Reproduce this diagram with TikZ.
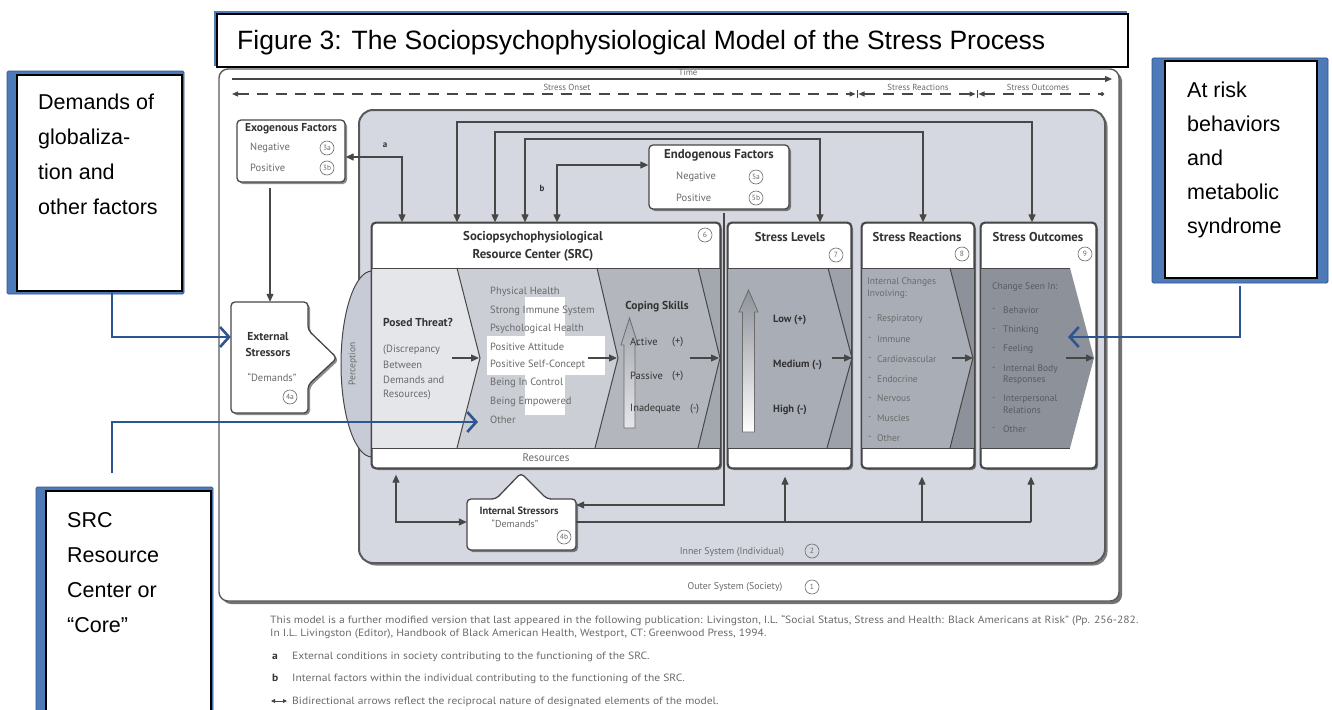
\documentclass[tikz,border=0pt]{standalone}
\usepackage{fontspec}
\setmainfont{Liberation Sans}
\newfontfamily\dfont{PT Sans}
\newfontfamily\fnfont[FakeStretch=1.1]{PT Sans}
\usetikzlibrary{arrows.meta,shadows,shapes.geometric}
\definecolor{bluedark}{HTML}{2C5592}
\definecolor{bluemid}{HTML}{4E7AB8}
\definecolor{innerfill}{HTML}{D5D8E0}
\definecolor{linegray}{HTML}{474747}
\definecolor{boxline}{HTML}{5A5A5A}
\definecolor{txtgray}{HTML}{6A6A6A}
\definecolor{hdgray}{HTML}{333333}
\definecolor{outtxt}{HTML}{575B61}
\definecolor{pA}{HTML}{E5E6EA}
\definecolor{pB}{HTML}{CBCED5}
\definecolor{pC}{HTML}{B3B6BD}
\definecolor{pD}{HTML}{A3A7AE}
\definecolor{pE}{HTML}{A9ADB5}
\definecolor{pE2}{HTML}{9DA1A9}
\definecolor{pF}{HTML}{8D9199}
\definecolor{percfill}{HTML}{C7CBD5}
\tikzset{
  outerbox/.style={draw=boxline, line width=1.4pt, fill=white, rounded corners=9pt, inner sep=0pt,
    drop shadow={shadow xshift=3pt, shadow yshift=-3pt, opacity=0.55, fill=black}},
  innerbox/.style={draw=boxline, line width=2pt, fill=innerfill, rounded corners=14pt, inner sep=0pt,
    drop shadow={shadow xshift=2.5pt, shadow yshift=-2.5pt, opacity=0.5, fill=black}},
  wbox/.style={draw=linegray, line width=1.3pt, fill=white, rounded corners=4pt, inner sep=0pt,
    drop shadow={shadow xshift=2pt, shadow yshift=-2pt, opacity=0.45, fill=black}},
  ghost/.style={inner sep=0pt, draw=none},
  ln/.style={draw=linegray, line width=1.2pt},
  arr/.style={ln, -{Triangle[length=8pt,width=7pt]}},
  arrtwo/.style={ln, {Triangle[length=8pt,width=7pt]}-{Triangle[length=8pt,width=7pt]}},
  bconn/.style={draw=bluedark, line width=2.6pt, -{Straight Barb[length=9pt,width=20pt,line width=2.6pt]}},
  lt/.style={inner sep=0pt, anchor=west, text=txtgray, font=\dfont\fontsize{10.5}{12}\selectfont},
  st/.style={inner sep=0pt, anchor=west, text=txtgray, font=\dfont\fontsize{9.5}{11}\selectfont},
  ot/.style={st, text=outtxt},
  bt/.style={inner sep=0pt, text=hdgray, font=\dfont\bfseries\fontsize{11.5}{13}\selectfont},
  ht/.style={inner sep=0pt, text=hdgray, font=\dfont\bfseries\fontsize{12.8}{15}\selectfont},
  tiny/.style={inner sep=0pt, text=txtgray, font=\dfont\fontsize{8.8}{10}\selectfont},
  cnum/.style={circle, draw=txtgray, line width=0.6pt, inner sep=0pt, minimum size=14pt, text=txtgray, font=\dfont\fontsize{7.5}{8}\selectfont},
  bigt/.style={anchor=base west, inner sep=0pt, font=\fontsize{21.5}{25}\selectfont},
  fn/.style={anchor=base west, inner sep=0pt, text=txtgray, font=\fnfont\fontsize{10.5}{12}\selectfont}
}
\begin{document}
\begin{tikzpicture}[x=1pt,y=-1pt]
\useasboundingbox (0,0) rectangle (1332,709);
% outer system
\node[outerbox, minimum width=900pt, minimum height=532pt] (outer) at (669,335) {};
% title
\draw[draw=bluemid, line width=2.2pt] (215,12) rectangle (1126,65);
\node[draw=black, line width=1.6pt, fill=white, minimum width=911pt, minimum height=53pt, inner sep=0pt] (tbox) at (672.5,40.5) {};
\node[anchor=base west, inner sep=0pt, font=\fontsize{26.5}{30}\selectfont] (ttxt) at (237,49) {Figure 3: The Sociopsychophysiological Model of the Stress Process};
% time line
\coordinate (tm1) at (232,79); \coordinate (tm2) at (1112,79);
\draw[ln, -{Triangle[length=7pt,width=6pt]}] (tm1) -- (tm2);
\node[tiny] (tmlab) at (688,72) {Time};
\coordinate (dd0) at (232,94); \coordinate (dd1) at (857,94);
\coordinate (dd2) at (977,94); \coordinate (dd3) at (1104,94);
\draw[ln, dash pattern=on 11pt off 8pt, {Triangle[length=6pt,width=5pt]}-{Triangle[length=6pt,width=5pt]}] (dd0) -- ([xshift=-1.5pt]dd1);
\draw[ln, dash pattern=on 11pt off 8pt, {Triangle[length=6pt,width=5pt]}-{Triangle[length=6pt,width=5pt]}] ([xshift=1.5pt]dd1) -- ([xshift=-1.5pt]dd2);
\draw[ln, dash pattern=on 11pt off 8pt, {Triangle[length=6pt,width=5pt]}-{Circle[length=4pt]}] ([xshift=1.5pt]dd2) -- (dd3);
\draw[ln, line width=1pt] ([yshift=-4pt]dd1) -- ([yshift=4pt]dd1);
\draw[ln, line width=1pt] ([yshift=-4pt]dd2) -- ([yshift=4pt]dd2);
\node[tiny] (lbon) at (567,87) {Stress Onset};
\node[tiny] (lbre) at (918,87) {Stress Reactions};
\node[tiny] (lbou) at (1038,87) {Stress Outcomes};
% inner system
\node[innerbox, minimum width=746pt, minimum height=453pt] (inner) at (732,336.5) {};
% exogenous factors
\node[wbox, minimum width=108pt, minimum height=62pt] (exo) at (291,151) {};
\node[bt] (exot) at (291,129) {Exogenous Factors};
\node[lt] (exon) at (250,148) {Negative};
\node[lt] (exop) at (250,168) {Positive};
\node[cnum] (c3a) at (327,148) {3a};
\node[cnum] (c3b) at (327,168) {3b};
% endogenous factors
\node[wbox, minimum width=140pt, minimum height=64pt] (endo) at (719,177) {};
\node[ht] (endot) at (719,155) {Endogenous Factors};
\node[lt] (endon) at (676,177) {Negative};
\node[lt] (endop) at (676,198) {Positive};
\node[cnum] (c5a) at (756,177) {5a};
\node[cnum] (c5b) at (756,198) {5b};
% external stressors
\node[ghost, minimum width=77pt, minimum height=111pt] (ext) at (269.5,357.5) {};
\path[wbox] (231,302) -- (308,302) -- (308,330) -- (337,358) -- (308,385) -- (308,413) -- (231,413) -- cycle;
\node[bt] (ext1) at (268,337) {External};
\node[bt] (ext2) at (268,352) {Stressors};
\node[inner sep=0pt, text=txtgray, font=\dfont\fontsize{10.5}{12}\selectfont] (ext3) at (272,377) {“Demands”};
\node[cnum] (c4a) at (290,397) {4a};
% perception
\node[ellipse, draw=linegray, line width=1pt, fill=percfill, minimum width=62pt, minimum height=186pt] (perc) at (372,364) {};
\node[tiny, rotate=90, font=\dfont\fontsize{9.5}{10}\selectfont] (perct) at (353,364) {Perception};
% main boxes
\node[wbox, minimum width=348pt, minimum height=245pt] (src) at (546,345.5) {};
\node[wbox, minimum width=123pt, minimum height=245pt] (lev) at (789.5,345.5) {};
\node[wbox, minimum width=112pt, minimum height=245pt] (rea) at (918,345.5) {};
\node[wbox, minimum width=115pt, minimum height=245pt] (out) at (1038.5,345.5) {};
% SRC panels
\fill[pA] (372,268) -- (457,268) -- (480,358) -- (457,448) -- (372,448) -- cycle;
\fill[pB] (457,268) -- (597,268) -- (618,358) -- (595,448) -- (457,448) -- (480,358) -- cycle;
\fill[pC] (597,268) -- (698,268) -- (720,358) -- (698,448) -- (595,448) -- (618,358) -- cycle;
\fill[pD] (698,268) -- (720,268) -- (720,448) -- (698,448) -- (720,358) -- cycle;
\draw[linegray, line width=1pt] (457,268) -- (480,358) -- (457,448);
\draw[linegray, line width=1pt] (597,268) -- (618,358) -- (595,448);
\draw[linegray, line width=1pt] (698,268) -- (720,358) -- (698,448);
\draw[linegray, line width=1pt] (372,268) -- (720,268);
\draw[linegray, line width=1pt] (372,448) -- (720,448);
\fill[white] (525,297) rectangle (565,415);
\fill[white] (487,336) rectangle (605,375);
% stress levels panel
\fill[pE] (728,268) -- (828,268) -- (852,358) -- (827,448) -- (728,448) -- cycle;
\fill[pE2] (828,268) -- (851,268) -- (851,448) -- (827,448) -- (852,358) -- cycle;
\draw[linegray, line width=1pt] (828,268) -- (852,358) -- (827,448);
\draw[linegray, line width=1pt] (728,268) -- (851,268);
\draw[linegray, line width=1pt] (728,448) -- (851,448);
% stress reactions panel
\fill[pE] (862,268) -- (950,268) -- (973,358) -- (950,448) -- (862,448) -- cycle;
\fill[pF] (950,268) -- (974,268) -- (974,448) -- (950,448) -- (973,358) -- cycle;
\draw[linegray, line width=1pt] (950,268) -- (973,358) -- (950,448);
\draw[linegray, line width=1pt] (862,268) -- (974,268);
\draw[linegray, line width=1pt] (862,448) -- (974,448);
% stress outcomes panel
\fill[pF] (981,268) -- (1070,268) -- (1094,358) -- (1070,448) -- (981,448) -- cycle;
\draw[linegray, line width=1pt] (981,268) -- (1070,268);
\draw[linegray, line width=1pt] (981,448) -- (1070,448);
% redraw box borders
\foreach \b in {src,lev,rea,out}
  \draw[linegray, line width=1.3pt, rounded corners=4pt] (\b.north west) rectangle (\b.south east);
% headers
\node[ht] (srch1) at (533,237) {Sociopsychophysiological};
\node[ht] (srch2) at (533,255) {Resource Center (SRC)};
\node[cnum] (c6) at (705,235) {6};
\node[ht] (levh) at (790,237) {Stress Levels};
\node[cnum] (c7) at (836,255) {7};
\node[ht] (reah) at (917,237) {Stress Reactions};
\node[cnum] (c8) at (962,254) {8};
\node[ht] (outh) at (1038,237) {Stress Outcomes};
\node[cnum] (c9) at (1085,254) {9};
\node[lt, anchor=center, font=\dfont\fontsize{11}{12}\selectfont] (resl) at (546,458) {Resources};
% posed threat
\node[bt, anchor=west] (pt0) at (383,322) {Posed Threat?};
\node[lt] (pt1) at (383,350) {(Discrepancy};
\node[lt] (pt2) at (383,365) {Between};
\node[lt] (pt3) at (383,380) {Demands and};
\node[lt] (pt4) at (383,395) {Resources)};
\coordinate (pa1) at (452,358); \coordinate (pa2) at (479,358);
\draw[arr] (pa1) -- (pa2);
% resources list
\foreach \s [count=\i] in {Physical Health,Strong Immune System,Psychological Health,Positive Attitude,Positive Self-Concept,Being In Control,Being Empowered,Other}
  \node[lt] (rl\i) at (490,{274+18.2*\i}) {\s};
\coordinate (pb1) at (588,358); \coordinate (pb2) at (617,358);
\draw[arr] (pb1) -- (pb2);
% coping skills
\path[draw=linegray!80, line width=0.8pt, top color=pD, bottom color=pA] (624,428) -- (624,345) -- (621,345) -- (629.5,318) -- (638,345) -- (635,345) -- (635,428) -- cycle;
\node[bt] (cs0) at (657,307) {Coping Skills};
\node[lt, text=hdgray] (cs1) at (630,342) {Active};
\node[lt, text=hdgray] (cs1b) at (672,342) {(+)};
\node[lt, text=hdgray] (cs2) at (630,376) {Passive};
\node[lt, text=hdgray] (cs2b) at (672,376) {(+)};
\node[lt, text=hdgray] (cs3) at (630,409) {Inadequate};
\node[lt, text=hdgray] (cs3b) at (690,409) {(-)};
\coordinate (pc1) at (690,358); \coordinate (pc2) at (719,358);
\draw[arr] (pc1) -- (pc2);
% stress levels content
\path[draw=linegray!80, line width=0.8pt, top color=pF, bottom color=white] (742.5,432) -- (742.5,312) -- (739,312) -- (748.5,290) -- (758,312) -- (754.5,312) -- (754.5,432) -- cycle;
\node[lt, text=hdgray, font=\dfont\bfseries\fontsize{10.5}{12}\selectfont] (lv1) at (773,320) {Low (+)};
\node[lt, text=hdgray, font=\dfont\bfseries\fontsize{10.5}{12}\selectfont] (lv2) at (773,365) {Medium (-)};
\node[lt, text=hdgray, font=\dfont\bfseries\fontsize{10.5}{12}\selectfont] (lv3) at (773,410) {High (-)};
\coordinate (pd1) at (832,358); \coordinate (pd2) at (852,358);
\draw[arr] (pd1) -- (pd2);
% stress reactions content
\node[st] (ra1) at (867,282) {Internal Changes};
\node[st] (ra2) at (867,294) {Involving:};
\foreach \s [count=\i] in {Respiratory,Immune,Cardiovascular,Endocrine,Nervous,Muscles,Other}
  {\node[st] (rd\i) at (868,{299.5+19.8*\i}) {-};
   \node[st] (rw\i) at (877,{299.5+19.8*\i}) {\s};}
\coordinate (pe1) at (952,358); \coordinate (pe2) at (973,358);
\draw[arr] (pe1) -- (pe2);
% stress outcomes content
\node[ot] (oa0) at (992,287) {Change Seen In:};
\node[ot] (od1) at (992,310) {-}; \node[ot] (ow1) at (1003,310) {Behavior};
\node[ot] (od2) at (992,330) {-}; \node[ot] (ow2) at (1003,330) {Thinking};
\node[ot] (od3) at (992,349) {-}; \node[ot] (ow3) at (1003,349) {Feeling};
\node[ot] (od4) at (992,369) {-}; \node[ot] (ow4) at (1003,369) {Internal Body};
\node[ot] (ow4b) at (1003,380) {Responses};
\node[ot] (od5) at (992,399) {-}; \node[ot] (ow5) at (1003,399) {Interpersonal};
\node[ot] (ow5b) at (1003,410) {Relations};
\node[ot] (od6) at (992,429) {-}; \node[ot] (ow6) at (1003,429) {Other};
\coordinate (pf1) at (1066,358); \coordinate (pf2) at (1094,358);
\draw[arr] (pf1) -- (pf2);
% internal stressors
\node[ghost, minimum width=109pt, minimum height=51pt] (int) at (521.5,524.5) {};
\path[wbox] (467,499) -- (496,499) -- (521,473) -- (547,499) -- (576,499) -- (576,550) -- (467,550) -- cycle;
\node[bt, font=\dfont\bfseries\fontsize{10.5}{12}\selectfont] (int1) at (519,511) {Internal Stressors};
\node[inner sep=0pt, text=txtgray, font=\dfont\fontsize{10}{12}\selectfont] (int2) at (515,524) {“Demands”};
\node[cnum] (c4b) at (564,537) {4b};
% system labels
\node[lt, anchor=center, font=\dfont\fontsize{9.8}{11}\selectfont] (innl) at (732,552) {Inner System (Individual)};
\node[cnum] (c2) at (812,551) {2};
\node[lt, anchor=center, font=\dfont\fontsize{9.8}{11}\selectfont] (outl) at (735,587) {Outer System (Society)};
\node[cnum] (c1) at (812,587) {1};
% top connectors
\coordinate (a1) at (402,157);
\draw[arrtwo] (exo.east |- a1) -- (a1) -- (src.north -| a1);
\node[inner sep=0pt, text=hdgray, font=\dfont\bfseries\fontsize{9}{10}\selectfont] (la) at (385,145) {a};
\coordinate (b1) at (457,122); \coordinate (b2) at (1032,122);
\draw[arrtwo] (src.north -| b1) -- (b1) -- (b2) -- (out.north -| b2);
\coordinate (k1) at (495,132); \coordinate (k2) at (923,132);
\draw[arrtwo] (src.north -| k1) -- (k1) -- (k2) -- (rea.north -| k2);
\coordinate (m1) at (525,139); \coordinate (m2) at (820,139);
\draw[arrtwo] (src.north -| m1) -- (m1) -- (m2) -- (lev.north -| m2);
\coordinate (e1) at (557,165);
\draw[arrtwo] (src.north -| e1) -- (e1) -- (endo.west |- e1);
\node[inner sep=0pt, text=hdgray, font=\dfont\bfseries\fontsize{9}{10}\selectfont] (lb) at (542,188) {b};
% exogenous to external stressors
\coordinate (xe) at (270,0);
\draw[arr, shorten <=5pt] (exo.south -| xe) -- (ext.north -| xe);
% endogenous to internal stressors
\coordinate (f1) at (724,505);
\draw[arr, shorten <=3pt] (endo.south -| f1) -- (f1) -- (int.east |- f1);
% bottom connectors
\coordinate (g1) at (396,522);
\draw[arrtwo, shorten <=6pt] (src.south -| g1) -- (g1) -- (int.west |- g1);
\coordinate (h1) at (785,522); \coordinate (h2) at (922,522); \coordinate (h3) at (1031,522);
\draw[ln] (int.east |- g1) -- (h3);
\draw[arr, shorten >=8pt] (h1) -- (lev.south -| h1);
\draw[arr, shorten >=8pt] (h2) -- (rea.south -| h2);
\draw[arr, shorten >=8pt] (h3) -- (out.south -| h3);
% blue annotation boxes
\draw[fill=bluemid, draw=bluedark, line width=0.8pt, rounded corners=1.5pt] (7,71) rectangle (184,294);
\node[draw=black, line width=1.6pt, fill=white, minimum width=165pt, minimum height=216pt, inner sep=0pt] (dem) at (99.5,183) {};
\foreach \s [count=\i] in {Demands of,globaliza-,tion and,other factors}
  \node[bigt] (dm\i) at (38,{74+35*\i}) {\s};
\draw[fill=bluemid, draw=bluedark, line width=0.8pt, rounded corners=1.5pt] (36,487) rectangle (213,740);
\node[draw=black, line width=1.6pt, fill=white, minimum width=165pt, minimum height=244pt, inner sep=0pt] (core) at (128.5,613) {};
\node[bigt] (cr1) at (67,527) {SRC};
\node[bigt] (cr2) at (67,562) {Resource};
\node[bigt] (cr3) at (67,597) {Center or};
\node[bigt] (cr4) at (67,632) {“Core”};
\draw[fill=bluemid, draw=bluedark, line width=0.8pt, rounded corners=1.5pt] (1152,58) rectangle (1328,283);
\node[draw=black, line width=1.6pt, fill=white, minimum width=152pt, minimum height=217pt, inner sep=0pt] (risk) at (1241,169.5) {};
\foreach \s [count=\i] in {At risk,behaviors,and,metabolic,syndrome}
  \node[bigt] (rk\i) at (1187,{63+34*\i}) {\s};
% blue connectors
\coordinate (bx1) at (112,337);
\draw[bconn] (dem.south -| bx1) -- (bx1) -- (ext.west |- bx1);
\coordinate (bx2) at (112,422); \coordinate (coreTip) at (478,422);
\draw[bconn, shorten <=17pt] (core.north -| bx2) -- (bx2) -- (coreTip);
\coordinate (bx3) at (1240,337); \coordinate (outTip) at (1068,337);
\draw[bconn, shorten <=7pt] (risk.south -| bx3) -- (bx3) -- (outTip);
% footnotes
\node[fn] (fn1) at (270,623) {This model is a further modified version that last appeared in the following publication: Livingston, I.L. “Social Status, Stress and Health: Black Americans at Risk” (Pp. 256-282.};
\node[fn] (fn2) at (270,636) {In I.L. Livingston (Editor), Handbook of Black American Health, Westport, CT: Greenwood Press, 1994.};
\node[fn, text=hdgray, font=\fnfont\bfseries\fontsize{10.5}{12}\selectfont] (fna) at (272,659) {a};
\node[fn] (fnat) at (292,659) {External conditions in society contributing to the functioning of the SRC.};
\node[fn, text=hdgray, font=\fnfont\bfseries\fontsize{10.5}{12}\selectfont] (fnb) at (272,681) {b};
\node[fn] (fnbt) at (292,681) {Internal factors within the individual contributing to the functioning of the SRC.};
\coordinate (fr1) at (271,701); \coordinate (fr2) at (287,701);
\draw[linegray, line width=0.9pt, {Triangle[length=4pt,width=4pt]}-{Triangle[length=4pt,width=4pt]}] (fr1) -- (fr2);
\node[fn] (fnct) at (292,704) {Bidirectional arrows reflect the reciprocal nature of designated elements of the model.};
\end{tikzpicture}
\end{document}
